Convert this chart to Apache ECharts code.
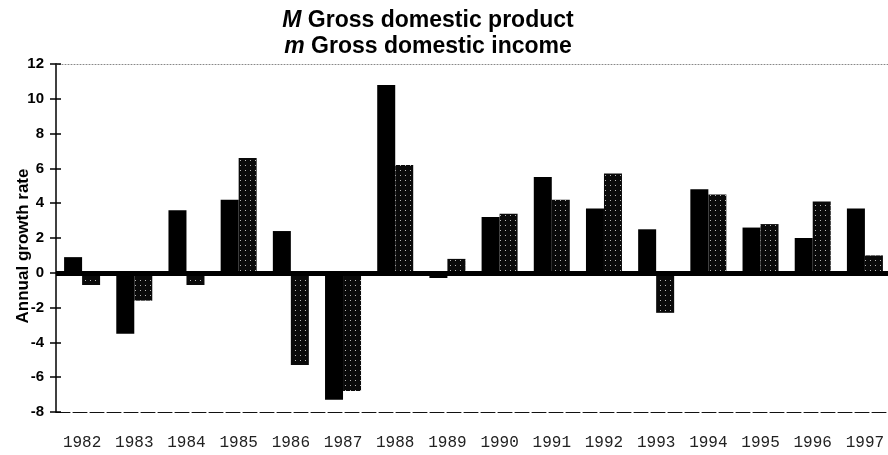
<!DOCTYPE html>
<html>
<head>
<meta charset="utf-8">
<script src="https://cdn.jsdelivr.net/npm/echarts@6/dist/echarts.min.js"></script>
<style>html,body{margin:0;padding:0;background:#fff;overflow:hidden;width:888px;height:455px}#c{width:892px;height:455px}</style>
</head>
<body>
<div id="c"></div>
<script>
var years = ['1982','1983','1984','1985','1986','1987','1988','1989','1990','1991','1992','1993','1994','1995','1996','1997'];
var gdp = [0.9, -3.5, 3.6, 4.2, 2.4, -7.3, 10.8, -0.3, 3.2, 5.5, 3.7, 2.5, 4.8, 2.6, 2.0, 3.7];
var gdi = [-0.7, -1.6, -0.7, 6.6, -5.3, -6.8, 6.2, 0.8, 3.4, 4.2, 5.7, -2.3, 4.5, 2.8, 4.1, 1.0];
var yMin = -8, yMax = 12, yStep = 2;

var chart = echarts.init(document.getElementById('c'), null, {renderer: 'canvas'});
chart.setOption({
  animation: false,
  backgroundColor: '#fff',
  title: {
    text: '{i|M} Gross domestic product\n{i|m} Gross domestic income',
    left: 428,
    top: 8,
    textAlign: 'center',
    padding: 0,
    textStyle: {
      fontFamily: 'Liberation Sans',
      fontWeight: 'bold',
      fontSize: 23,
      lineHeight: 26,
      color: '#000',
      rich: {
        i: {fontFamily: 'Liberation Sans', fontWeight: 'bold', fontStyle: 'italic', fontSize: 23, lineHeight: 26, color: '#000'}
      }
    }
  },
  grid: {left: 56, top: 64, right: 1, bottom: 43, containLabel: false},
  xAxis: [{
    type: 'category',
    data: years,
    position: 'bottom',
    axisLine: {onZero: false, lineStyle: {color: '#111', width: 1, type: [14, 3]}},
    axisTick: {show: false},
    axisLabel: {fontFamily: 'Liberation Mono', fontSize: 16, color: '#222', margin: 23},
    splitLine: {show: false}
  }, {
    type: 'category',
    data: years,
    position: 'top',
    axisLine: {onZero: false, lineStyle: {color: '#888', width: 1, type: [1, 2]}},
    axisTick: {show: false},
    axisLabel: {show: false},
    splitLine: {show: false}
  }],
  yAxis: [{
    type: 'value',
    min: yMin, max: yMax, interval: yStep,
    position: 'left',
    name: 'Annual growth rate',
    nameLocation: 'middle',
    nameGap: 24,
    nameMoveOverlap: false,
    nameTextStyle: {fontFamily: 'Liberation Sans', fontWeight: 'bold', fontSize: 17, color: '#000', padding: [0, 16, 0, 0]},
    axisLine: {show: true, lineStyle: {color: '#000', width: 1.5}},
    axisTick: {show: true, length: 6, lineStyle: {color: '#000', width: 1.5}},
    axisLabel: {fontFamily: 'Liberation Sans', fontWeight: 'bold', fontSize: 15, color: '#000', margin: 12},
    splitLine: {show: false}
  }, {
    type: 'value',
    min: yMin, max: yMax, interval: yStep,
    position: 'left',
    axisLine: {show: false},
    axisTick: {show: true, inside: true, length: 5, lineStyle: {color: '#000', width: 1.5}},
    axisLabel: {show: false},
    splitLine: {show: false}
  }],
  series: [{
    name: 'Gross domestic product',
    type: 'bar',
    data: gdp,
    barWidth: 18,
    barGap: '0%',
    itemStyle: {color: '#000'},
    markLine: {
      silent: true,
      symbol: ['none', 'none'],
      label: {show: false},
      lineStyle: {color: '#000', width: 5, type: 'solid'},
      data: [{yAxis: 0}]
    }
  }, {
    name: 'Gross domestic income',
    type: 'bar',
    data: gdi,
    barWidth: 18,
    barGap: '0%',
    itemStyle: {
      color: '#0a0a0a',
      decal: {symbol: 'rect', symbolSize: 1, color: 'rgba(255,255,255,0.7)', dashArrayX: [1, 4], dashArrayY: [1, 4], rotation: 0}
    }
  }]
});
</script>
</body>
</html>
